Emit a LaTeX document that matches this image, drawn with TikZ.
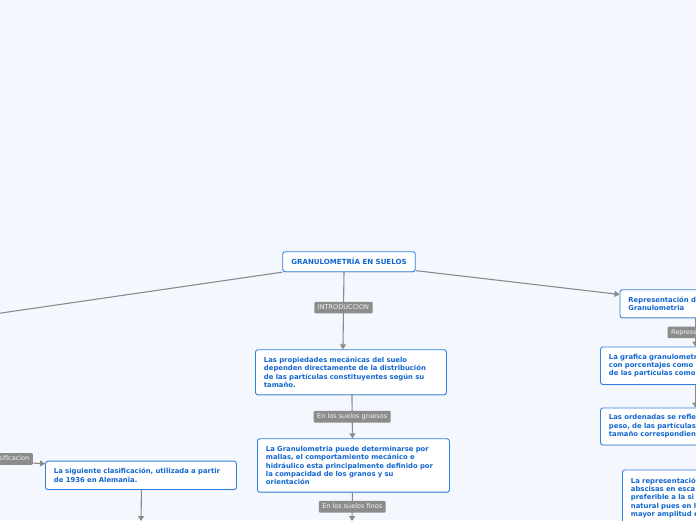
\documentclass[tikz,border=0pt]{standalone}
\usepackage{fontspec}
\setmainfont{DejaVu Sans}
\usetikzlibrary{arrows.meta,shadows}
\definecolor{fondo}{HTML}{F4F7FE}
\definecolor{borde}{HTML}{2F80E2}
\definecolor{azul}{HTML}{1266CF}
\definecolor{gris}{HTML}{8A8A8A}
\definecolor{etiq}{HTML}{8C8C8C}

\begin{document}
\begin{tikzpicture}[x=1pt,y=-1pt,
  tema/.style={draw=borde,fill=white,line width=0.9pt,rounded corners=2.5pt,
    text=azul,font=\bfseries\fontsize{6.85}{8.4}\selectfont,align=left,
    inner xsep=8.5pt,inner ysep=3pt,anchor=north west,
    drop shadow={shadow xshift=0pt,shadow yshift=-1pt,opacity=0.2,fill=gray}},
  etq/.style={fill=etiq,text=white!92!gray,rounded corners=1pt,
    font=\fontsize{6.5}{7}\selectfont,inner xsep=3.5pt,inner ysep=2.8pt,
    text height=4.8pt,text depth=1.3pt},
  con/.style={draw=gris,line width=1.1pt,-{Triangle[width=6pt,length=5pt]}}]
\useasboundingbox (0,0) rectangle (696,520);
\clip (0,0) rectangle (696,520);
\fill[fondo] (0,0) rectangle (696,520);
% nodos
\node[tema,anchor=center,align=center,minimum width=132.5pt,minimum height=20pt,
  font=\bfseries\fontsize{7.05}{8.4}\selectfont]
  (raiz) at (349,261.7) {GRANULOMETRÍA EN SUELOS};
\node[tema,text width=174pt,minimum height=45pt] (prop) at (255,349.3)
  {Las propiedades mecánicas del suelo\\dependen directamente de la distribución\\de las partículas constituyentes según su\\tamaño.};
\node[tema,text width=175pt,minimum height=53.4pt] (gran) at (257,438.3)
  {La Granulometria puede determinarse por\\mallas, el comportamiento mecánico e\\hidráulico esta principalmente definido por\\la compacidad de los granos y su\\orientación};
\node[tema,text width=174pt,minimum height=28.3pt] (clas) at (45,460.7)
  {La siguiente clasificación, utilizada a partir\\de 1936 en Alemania.};
\node[tema,text width=170pt,minimum height=28pt] (rep) at (619.5,289.3)
  {Representación d\\Granulometria};
\node[tema,text width=170pt,minimum height=37.5pt] (graf) at (600,346.5)
  {La grafica granulometr\\con porcentajes como\\de las partículas como};
\node[tema,text width=170pt,minimum height=37pt] (ord) at (600,407.5)
  {Las ordenadas se refle\\peso, de las partículas\\tamaño correspondien};
\node[tema,text width=170pt,minimum height=56pt] (abs) at (622,469.5)
  {La representació\\abscisas en esca\\preferible a la si\\natural pues en l\\mayor amplitud e};
\coordinate (izq) at (-60,321.9);
\coordinate (ent) at (-50,458.5);
\coordinate (finos) at (352,521);
\coordinate (abajo) at (141,521);
% conectores
\draw[con] (raiz.south west) -- (izq);
\draw[con] ([xshift=-5pt]raiz.south) -- node[etq,pos=0.46]{INTRODUCCION} ([xshift=-8pt]prop.north);
\draw[con] ([yshift=1.5pt]raiz.south east) -- ([yshift=9.3pt]rep.west);
\draw[con] ([xshift=1pt]prop.south) -- node[etq]{En los suelos gruesos} ([xshift=-1pt]gran.north);
\draw[con] ([xshift=-1pt]gran.south) -- node[etq]{En los suelos finos} (finos);
\draw[con] (ent) -- node[etq,pos=0.877,anchor=east,yshift=4pt]{sificacion} ([yshift=11.6pt]clas.west);
\draw[con] ([xshift=0.5pt]clas.south) -- (abajo);
\draw[con] ([xshift=75.8pt]rep.south west) -- node[etq,anchor=west,xshift=-28.3pt]{Represe} ([xshift=95.3pt]graf.north west);
\draw[con] ([xshift=95.3pt]graf.south west) -- ([xshift=95.3pt]ord.north west);
\end{tikzpicture}
\end{document}
